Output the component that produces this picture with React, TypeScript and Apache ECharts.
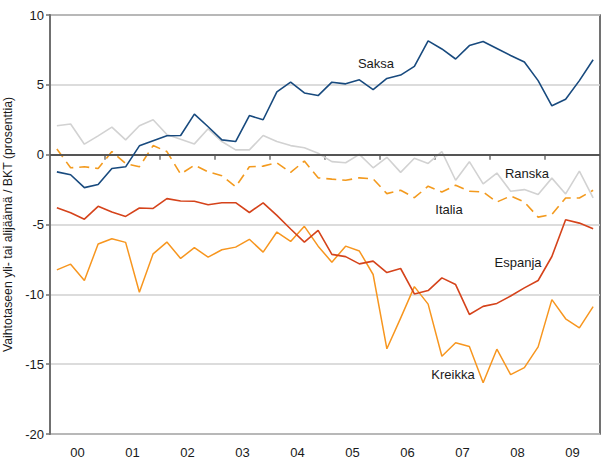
import React, { useEffect, useRef } from "react";
import * as echarts from "echarts";

const years = ["00", "01", "02", "03", "04", "05", "06", "07", "08", "09"];

const saksa = [
  -1.23, -1.44, -2.36, -2.14, -0.99, -0.87, 0.63, 1.0, 1.35, 1.37,
  2.9, 2.0, 1.06, 0.94, 2.8, 2.5, 4.5, 5.2, 4.42, 4.23,
  5.19, 5.07, 5.36, 4.66, 5.46, 5.7, 6.32, 8.15, 7.57, 6.85,
  7.81, 8.1, 7.6, 7.1, 6.63, 5.3, 3.5, 3.97, 5.3, 6.8,
];
const ranska = [
  2.07, 2.2, 0.75, 1.35, 1.97, 1.06, 2.07, 2.5, 1.44, 1.1,
  0.77, 1.85, 0.94, 0.34, 0.34, 1.37, 0.94, 0.65, 0.5, 0.1,
  -0.5, -0.58, 0.02, -0.94, -0.19, -1.27, -0.26, -0.63, 0.22, -1.83,
  -0.5, -2.09, -1.32, -2.62, -2.5, -2.86, -1.68, -2.81, -1.18, -3.1,
];
const italia = [
  0.41, -0.94, -0.87, -0.99, 0.22, -0.63, -0.87, 0.65, 0.22, -1.39,
  -0.75, -1.23, -1.51, -2.3, -0.87, -0.82, -0.58, -1.27, -0.46, -1.66,
  -1.75, -1.83, -1.66, -1.73, -2.79, -2.55, -3.08, -2.26, -2.67, -2.19,
  -2.62, -2.67, -3.39, -2.96, -3.39, -4.47, -4.28, -3.1, -3.1, -2.55,
];
const espanja = [
  -3.8, -4.16, -4.62, -3.7, -4.11, -4.42, -3.82, -3.85, -3.15, -3.32,
  -3.34, -3.58, -3.44, -3.44, -4.14, -3.45, -4.35, -5.32, -6.26, -5.42,
  -7.14, -7.3, -7.82, -7.62, -8.44, -8.15, -9.97, -9.73, -8.82, -9.3,
  -11.44, -10.86, -10.65, -10.12, -9.54, -9.01, -7.29, -4.66, -4.9, -5.31,
];
const kreikka = [
  -8.25, -7.84, -9.01, -6.4, -6.02, -6.28, -9.85, -7.1, -6.26, -7.43,
  -6.66, -7.34, -6.81, -6.62, -6.06, -6.98, -5.54, -6.21, -5.13, -6.55,
  -7.7, -6.55, -6.9, -8.58, -13.9, -11.7, -9.45, -10.7, -14.43, -13.47,
  -13.74, -16.33, -13.93, -15.75, -15.25, -13.76, -10.38, -11.75, -12.4, -10.88,
];

const seriesNames = ["Saksa", "Ranska", "Italia", "Espanja", "Kreikka"];

const toPoints = (arr: number[]) => arr.map((v, i) => [i + 0.5, v]);

export default function App() {
  const ref = useRef<HTMLDivElement>(null);
  useEffect(() => {
    if (!ref.current) return;
    const chart = echarts.init(ref.current, undefined, { renderer: "svg" });
    const font = "Liberation Sans, Arial, sans-serif";
    const labelStyle = { fontFamily: font, fontSize: 13, fill: "#1a1a1a" };
    chart.setOption({
      animation: false,
      backgroundColor: "#ffffff",
      grid: {
        left: 50,
        right: 1,
        top: 15,
        bottom: 25,
        containLabel: false,
        outerBoundsMode: "none",
        show: true,
        borderColor: "#444444",
        borderWidth: 1.5,
        backgroundColor: "transparent",
      },
      xAxis: [
        {
          type: "value",
          min: 0,
          max: 40,
          interval: 4,
          axisLine: { show: true, lineStyle: { color: "#707070", width: 2 } },
          axisTick: { show: true, inside: false, length: 5, lineStyle: { color: "#707070", width: 1.5 } },
          axisLabel: { show: false },
          splitLine: { show: false },
        },
        {
          type: "category",
          position: "bottom",
          data: years,
          boundaryGap: true,
          axisLine: { show: false },
          axisTick: { show: false },
          splitLine: { show: false },
          axisLabel: { color: "#1a1a1a", fontSize: 13, fontFamily: font, margin: 12 },
        },
      ],
      yAxis: {
        type: "value",
        min: -20,
        max: 10,
        interval: 5,
        name: "Vaihtotaseen yli- tai alijäämä / BKT (prosenttia)",
        nameLocation: "middle",
        nameGap: 31,
        nameTextStyle: { color: "#1a1a1a", fontSize: 12.3, fontFamily: font },
        axisLine: { show: true, lineStyle: { color: "#707070", width: 2 } },
        axisTick: { show: true, length: 4, lineStyle: { color: "#707070", width: 1.5 } },
        axisLabel: { color: "#1a1a1a", fontSize: 13, fontFamily: font, margin: 6 },
        splitLine: { show: true, lineStyle: { color: "#d0d0d0", width: 1.5 } },
      },
      series: [
        {
          name: seriesNames[0],
          type: "line",
          data: toPoints(saksa),
          symbol: "none",
          lineStyle: { color: "#184a7e", width: 1.6 },
          z: 5,
          markLine: {
            silent: true,
            symbol: "none",
            label: { show: false },
            lineStyle: { color: "#555555", width: 2, type: "solid" },
            data: [{ yAxis: 0 }],
          },
        },
        {
          name: seriesNames[1],
          type: "line",
          data: toPoints(ranska),
          symbol: "none",
          lineStyle: { color: "#d2d2d2", width: 1.6 },
          z: 2,
        },
        {
          name: seriesNames[2],
          type: "line",
          data: toPoints(italia),
          symbol: "none",
          lineStyle: { color: "#f39a1e", width: 1.6, type: [10, 6] },
          z: 3,
        },
        {
          name: seriesNames[3],
          type: "line",
          data: toPoints(espanja),
          symbol: "none",
          lineStyle: { color: "#d5431b", width: 1.6 },
          z: 4,
        },
        {
          name: seriesNames[4],
          type: "line",
          data: toPoints(kreikka),
          symbol: "none",
          lineStyle: { color: "#f7961f", width: 1.5 },
          z: 3,
        },
      ],
      graphic: [
        { type: "text", x: 376, y: 63, style: { ...labelStyle, text: "Saksa", textAlign: "center", textVerticalAlign: "middle" } },
        { type: "text", x: 527, y: 173, style: { ...labelStyle, text: "Ranska", textAlign: "center", textVerticalAlign: "middle" } },
        { type: "text", x: 449, y: 209, style: { ...labelStyle, text: "Italia", textAlign: "center", textVerticalAlign: "middle" } },
        { type: "text", x: 518, y: 262, style: { ...labelStyle, text: "Espanja", textAlign: "center", textVerticalAlign: "middle" } },
        { type: "text", x: 453, y: 374, style: { ...labelStyle, text: "Kreikka", textAlign: "center", textVerticalAlign: "middle" } },
      ],
    });
    return () => chart.dispose();
  }, []);
  return <div ref={ref} style={{ width: 601, height: 459, position: "absolute", left: 0, top: 0 }} />;
}
